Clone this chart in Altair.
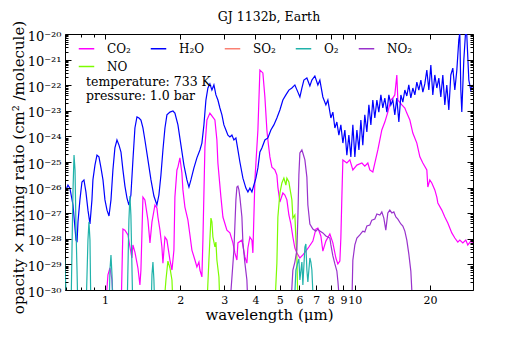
import altair as alt
import pandas as pd

FONT = "DejaVu Serif"

# ---------------- data (wavelength in micron, log10 of opacity x mixing ratio) -------------
species_order = ["CO₂", "H₂O", "SO₂", "O₂", "NO₂", "NO"]
species_colors = ["#ff00ff", "#0000ff", "#fa8072", "#20b2aa", "#9932cc", "#7cfc00"]

h2o_wl = [0.698, 0.711, 0.724, 0.745, 0.766, 0.773, 0.780, 0.794, 0.809, 0.824,
          0.839, 0.855, 0.871, 0.887, 0.895, 0.912, 0.929, 0.946, 0.964, 0.982,
          1.000, 1.019, 1.038, 1.057, 1.076, 1.096, 1.117, 1.138, 1.159, 1.180,
          1.202, 1.225, 1.247, 1.270, 1.294, 1.318, 1.343, 1.368, 1.393, 1.419,
          1.445, 1.486, 1.528, 1.570, 1.614, 1.644, 1.675, 1.706, 1.738, 1.770,
          1.820, 1.871, 1.905, 1.959, 2.014, 2.070, 2.128, 2.168, 2.208, 2.270,
          2.333, 2.399, 2.443, 2.489, 2.535, 2.582, 2.630, 2.679, 2.729, 2.780,
          2.831, 2.884, 2.938, 2.992, 3.048, 3.105, 3.162, 3.221, 3.281, 3.342,
          3.404, 3.467, 3.565, 3.664, 3.733, 3.802, 3.873, 3.945, 4.018, 4.093,
          4.169, 4.246, 4.365, 4.487, 4.613, 4.742, 4.875, 5.012, 5.152, 5.297,
          5.445, 5.598, 5.754, 5.916, 6.026, 6.138, 6.252, 6.427, 6.607, 6.730,
          6.918, 7.112, 7.244, 7.447, 7.656, 7.798, 8.017, 8.166, 8.318, 8.472,
          8.630, 8.790, 8.954, 9.120, 9.290, 9.462, 9.638, 9.817, 10.0, 10.19,
          10.38, 10.57, 10.76, 10.96, 11.17, 11.38, 11.59, 11.80, 12.02, 12.25,
          12.47, 12.71, 12.94, 13.18, 13.43, 13.68, 13.93, 14.19, 14.45, 14.72,
          15.00, 15.28, 15.56, 15.85, 16.14, 16.44, 16.75, 17.06, 17.38, 17.70,
          18.03, 18.37, 18.71, 19.05, 19.41, 19.77, 20.14, 20.51, 20.89, 21.28,
          21.68, 22.08, 22.49, 22.91, 23.33, 23.77, 24.21, 24.66, 25.12, 25.59,
          26.06, 26.30, 26.55, 26.79, 27.29, 27.80, 28.05, 28.58, 29.11, 29.65]
h2o_log = [-26.09, -25.90, -26.02, -26.68, -28.05, -28.13, -27.34, -26.48, -25.78, -25.70,
           -26.17, -26.88, -27.42, -26.48, -25.70, -25.12, -24.73, -24.80, -25.23, -25.70,
           -26.48, -26.88, -27.11, -26.48, -25.31, -24.45, -24.14, -24.34, -24.61, -25.31,
           -25.94, -26.41, -26.68, -26.29, -24.92, -23.67, -23.24, -23.28, -23.36, -23.67,
           -24.14, -24.92, -25.70, -26.33, -26.68, -26.29, -25.51, -24.53, -23.67, -23.16,
           -23.05, -23.01, -23.09, -23.55, -24.34, -25.12, -25.70, -25.98, -25.70, -25.23,
           -24.84, -24.53, -24.26, -23.55, -22.58, -22.11, -21.95, -22.19, -21.99, -22.38,
           -22.58, -22.89, -23.16, -23.55, -23.75, -23.95, -24.02, -23.95, -24.14, -24.06,
           -24.53, -25.00, -25.63, -26.02, -26.17, -26.02, -26.17, -25.90, -25.63, -25.23,
           -24.61, -24.45, -24.14, -24.06, -23.75, -23.55, -23.28, -22.97, -22.58, -22.38,
           -22.19, -22.11, -21.99, -22.27, -22.46, -22.11, -21.80, -21.72, -22.03, -21.80,
           -21.64, -21.99, -21.80, -22.46, -22.77, -22.58, -23.28, -23.05, -23.67, -23.44,
           -23.95, -23.55, -24.26, -23.75, -24.73, -23.95, -24.80, -23.55, -24.80, -23.75,
           -24.53, -23.36, -24.34, -23.16, -23.83, -22.77, -23.55, -22.58, -23.28, -22.58,
           -23.05, -22.38, -22.89, -22.50, -23.05, -22.38, -22.77, -22.58, -23.16, -22.50,
           -23.44, -22.38, -22.66, -22.19, -22.42, -21.99, -22.50, -22.11, -22.38, -21.88,
           -22.19, -21.80, -22.27, -21.95, -21.41, -22.19, -21.21, -22.38, -21.60, -22.11,
           -21.72, -22.46, -21.60, -22.77, -21.99, -22.97, -21.60, -21.33, -22.19, -21.41,
           -20.23, -19.96, -22.19, -23.05, -21.02, -19.77, -20.04, -21.80, -22.19, -21.99]

co2_wl = [0.991, 1.028, 1.047, 1.067, 1.086, 1.159, 1.180, 1.202, 1.236, 1.259,
          1.282, 1.294, 1.318, 1.355, 1.380, 1.393, 1.419, 1.445, 1.486, 1.514,
          1.542, 1.585, 1.614, 1.629, 1.660, 1.690, 1.706, 1.738, 1.770, 1.820,
          1.854, 1.888, 1.905, 1.941, 1.959, 1.995, 2.032, 2.051, 2.089, 2.148,
          2.188, 2.228, 2.291, 2.333, 2.377, 2.399, 2.443, 2.466, 2.512, 2.559,
          2.630, 2.679, 2.754, 2.805, 2.831, 2.911, 2.965, 3.076, 3.162, 3.251,
          3.311, 3.373, 3.404, 3.532, 3.631, 3.698, 3.733, 3.802, 3.873, 3.908,
          3.981, 4.093, 4.169, 4.285, 4.365, 4.446, 4.487, 4.571, 4.656, 4.786,
          4.875, 4.920, 5.012, 5.152, 5.248, 5.346, 5.445, 5.546, 5.649, 5.754,
          5.861, 6.026, 6.194, 6.368, 6.546, 6.792, 6.982, 7.112, 7.311, 7.447,
          7.656, 7.943, 8.166, 8.395, 8.551, 8.710, 8.790, 8.872, 8.954, 9.290,
          9.550, 9.817, 10.19, 10.67, 10.96, 11.27, 11.48, 11.80, 12.02, 12.36,
          12.82, 13.18, 13.55, 13.93, 14.19, 14.45, 14.72, 14.86, 15.42, 15.85,
          16.14, 16.60, 17.06, 17.70, 18.20, 18.71, 19.41, 19.59, 19.95, 20.32,
          20.89, 21.28, 21.48, 22.28, 22.91, 23.55, 24.43, 25.12, 25.82, 26.30,
          27.04, 27.80, 28.31, 29.11, 29.65]
co2_log = [-31.5, -29.41, -29.14, -29.61, -31.0, -31.0, -27.62, -27.66, -27.85, -28.32,
           -28.75, -28.24, -28.52, -29.14, -29.80, -29.22, -26.37, -26.48, -27.27, -28.16,
           -27.34, -26.68, -26.80, -27.15, -27.66, -28.32, -28.95, -27.93, -28.05, -28.83,
           -29.22, -28.44, -26.37, -25.31, -25.20, -24.84, -25.43, -26.09, -26.76, -27.27,
           -27.85, -28.44, -28.83, -29.10, -28.91, -29.22, -29.49, -28.05, -24.41, -23.36,
           -23.09, -23.20, -23.36, -24.14, -25.04, -26.37, -27.15, -27.66, -27.77, -28.16,
           -28.55, -28.83, -28.16, -28.05, -28.71, -28.95, -28.36, -27.93, -28.05, -28.55,
           -25.70, -23.75, -21.41, -21.52, -22.46, -23.75, -24.14, -24.80, -25.20, -25.31,
           -25.51, -25.98, -26.56, -26.21, -26.29, -26.48, -27.07, -27.42, -27.93, -28.36,
           -28.55, -28.75, -28.63, -28.48, -28.32, -28.09, -27.62, -27.58, -27.89, -28.48,
           -28.09, -27.81, -28.16, -28.75, -28.98, -28.87, -27.97, -26.37, -24.92, -25.04,
           -24.92, -25.31, -25.12, -25.04, -25.16, -25.04, -25.31, -25.39, -25.04, -24.53,
           -23.75, -23.44, -23.05, -22.58, -22.50, -22.38, -21.60, -22.58, -22.77, -22.89,
           -23.09, -23.36, -23.87, -24.26, -24.80, -25.04, -25.31, -25.98, -25.70, -25.82,
           -26.09, -26.37, -26.60, -26.88, -27.15, -27.38, -27.77, -27.97, -28.13, -28.05,
           -28.16, -28.05, -28.24, -28.09, -28.16]

no2_wl = [3.162, 3.281, 3.342, 3.373, 3.404, 3.436, 3.467, 3.532, 3.565, 3.631,
          3.698, 3.733, 4.571, 5.546, 5.649, 5.754, 5.861, 5.916, 5.970, 6.026,
          6.138, 6.194, 6.310, 6.427, 6.486, 6.607, 6.792, 6.982, 7.112, 7.244,
          7.447, 7.656, 7.943, 8.017, 8.166, 8.318, 8.472, 8.551, 8.710, 9.300,
          9.727, 9.817, 10.0, 10.19, 10.47, 10.76, 10.96, 11.17, 11.48, 11.69,
          12.02, 12.25, 12.59, 12.82, 13.06, 13.30, 13.55, 13.80, 14.06, 14.32,
          14.59, 14.86, 15.28, 15.56, 15.85, 16.14, 16.44, 16.75, 16.90, 17.06]
no2_log = [-30.6, -28.44, -26.48, -25.98, -25.94, -26.09, -26.37, -27.15, -28.16, -28.95,
           -29.61, -30.6, -32.0, -30.6, -29.22, -28.91, -28.44, -27.15, -25.51, -24.65,
           -24.53, -24.65, -24.92, -25.59, -26.68, -27.42, -27.62, -27.70, -27.62, -27.70,
           -27.77, -27.89, -27.97, -28.24, -28.67, -28.98, -29.26, -29.65, -30.6, -32.0,
           -30.6, -28.83, -28.24, -27.97, -27.85, -27.70, -27.73, -27.50, -27.46, -27.27,
           -27.23, -27.03, -27.07, -26.95, -27.19, -27.66, -26.99, -26.88, -26.99, -26.95,
           -27.15, -27.23, -27.42, -27.50, -27.70, -28.05, -28.59, -29.26, -30.00, -30.6]

no_wl = [1.722, 1.754, 1.786, 1.820, 1.854, 1.871, 2.188, 2.559, 2.606, 2.655,
         2.679, 2.704, 2.754, 2.780, 2.805, 2.858, 2.884, 3.802, 4.786, 4.875,
         4.920, 5.012, 5.105, 5.200, 5.297, 5.346, 5.445, 5.495, 5.598, 5.649,
         5.754, 5.808, 5.861, 5.916]
no_log = [-30.6, -29.61, -28.87, -29.14, -29.61, -30.6, -32.0, -30.6, -28.83, -27.19,
          -27.34, -27.93, -28.32, -28.13, -28.83, -29.49, -30.6, -32.0, -30.6, -28.95,
          -27.15, -26.21, -25.82, -25.63, -25.90, -25.63, -25.78, -26.02, -26.48, -27.19,
          -27.07, -27.97, -28.71, -30.6]

o2_wl = [0.690, 0.705, 0.731, 0.738, 0.745, 0.752, 0.759, 0.766, 0.773, 0.780,
         0.839, 0.855, 0.863, 0.871, 0.879, 1.038, 1.047, 1.057, 1.067, 1.076,
         1.225, 1.247, 1.259, 1.270, 1.294, 1.528, 1.542, 1.556, 1.570, 1.585,
         5.702, 5.808, 5.916, 5.970, 6.026, 6.138, 6.194, 6.310, 6.368, 6.427,
         6.486, 6.607, 6.668, 6.730, 6.855]
o2_log = [-28.8, -31.0, -31.0, -28.44, -26.09, -24.73, -25.31, -27.66, -29.22, -31.0,
          -31.0, -28.05, -27.34, -28.05, -31.0, -31.0, -29.22, -28.63, -29.41, -31.0,
          -31.0, -27.27, -26.33, -27.07, -31.0, -31.0, -29.41, -28.91, -29.61, -31.0,
          -31.0, -29.22, -28.91, -28.79, -29.61, -28.91, -29.80, -28.32, -28.20, -29.22,
          -29.69, -28.75, -28.91, -29.22, -31.0]

so2_wl = []
so2_log = []

x_label_ticks = [1, 2, 3, 4, 5, 6, 7, 8, 9, 10, 20]
x_minor_ticks = [0.7, 0.8, 0.9]
y_major_ticks = [1e-30, 1e-29, 1e-28, 1e-27, 1e-26, 1e-25, 1e-24, 1e-23, 1e-22, 1e-21, 1e-20]
minor_mult = [2, 3, 4, 5, 6, 7, 8, 9]
y_minor_ticks = [m * d for d in y_major_ticks[:-1] for m in minor_mult]

title_text = "GJ 1132b, Earth"
annotation = "temperature: 733 K\npressure: 1.0 bar"

# ---------------- build table ----------------
series = [("CO₂", co2_wl, co2_log), ("NO", no_wl, no_log), ("H₂O", h2o_wl, h2o_log),
          ("SO₂", so2_wl, so2_log), ("O₂", o2_wl, o2_log), ("NO₂", no2_wl, no2_log)]
rows = []
for name, wl, lg in series:
    for w, v in zip(wl, lg):
        rows.append({"species": name, "wavelength": w, "opacity": 10.0 ** v})
df = pd.DataFrame(rows)

xscale = alt.Scale(type="log", domain=[0.692, 29.7], nice=False)
yscale = alt.Scale(type="log", domain=[1e-30, 1e-20], nice=False)

sup = "⁰¹²³⁴⁵⁶⁷⁸⁹"
e = "(-round(log(datum.value)/LN10))"
ylabel_expr = (f"'10⁻' + substring('{sup}', floor({e}/10), floor({e}/10)+1)"
               f" + substring('{sup}', {e}%10, {e}%10+1)")

lines = alt.Chart(df).mark_line(clip=True, strokeWidth=1.2).encode(
    x=alt.X("wavelength:Q", scale=xscale,
            axis=alt.Axis(orient="bottom", values=x_label_ticks, format="d", ticks=False,
                          tickSize=0, domain=False, grid=False, labelFontSize=11,
                          labelPadding=4, labelOverlap=False, labelFlush=False,
                          labelBound=False, title="wavelength (μm)", titleFontSize=15,
                          titlePadding=2)),
    y=alt.Y("opacity:Q", scale=yscale,
            axis=alt.Axis(orient="left", values=y_major_ticks, labelExpr=ylabel_expr,
                          ticks=False, tickSize=0, domain=False, grid=False,
                          labelFontSize=13, labelPadding=4, labelOffset=2,
                          labelOverlap=False, labelFlush=False, labelBound=False,
                          title="opacity × mixing ratio (cm² /molecule)",
                          titleFontSize=15, titleX=-47, titleY=133, titleAngle=270,
                          titleAlign="center", titleBaseline="middle")),
    color=alt.Color("species:N", scale=alt.Scale(domain=species_order, range=species_colors),
                    legend=alt.Legend(orient="none", legendX=13, legendY=6, columns=5,
                                      direction="horizontal",
                                      title=None, symbolType="stroke", symbolSize=240,
                                      symbolStrokeWidth=1.5, labelFont=FONT,
                                      labelFontSize=12, labelOffset=12, columnPadding=16,
                                      rowPadding=3, padding=0, labelColor="black")),
)

annot = alt.Chart(pd.DataFrame({"t": [annotation]})).mark_text(
    align="left", baseline="top", font=FONT, fontSize=12.5, lineHeight=14,
    color="black", lineBreak="\n"
).encode(x=alt.value(21), y=alt.value(42), text="t:N")

title_mark = alt.Chart(pd.DataFrame({"t": [title_text]})).mark_text(
    align="center", baseline="alphabetic", font=FONT, fontSize=12.5, color="black"
).encode(x=alt.value(204), y=alt.value(-13), text="t:N")

tick_df = pd.DataFrame({"wavelength": [1.0, 10.0], "opacity": [1e-25, 1e-24]})


def tick_axis(orient, values, size):
    return alt.Axis(orient=orient, values=values, tickSize=size, offset=-size,
                    labels=False, domain=False, grid=False, title=None, ticks=True,
                    tickColor="black", tickWidth=1, zindex=2)


def tick_layer(xaxis=None, yaxis=None):
    return alt.Chart(tick_df).mark_point(opacity=0).encode(
        x=alt.X("wavelength:Q", scale=xscale, axis=xaxis),
        y=alt.Y("opacity:Q", scale=yscale, axis=yaxis))


layers = [
    tick_layer(xaxis=tick_axis("bottom", x_label_ticks, 5)),
    tick_layer(xaxis=tick_axis("top", x_label_ticks, 5)),
    tick_layer(xaxis=tick_axis("bottom", x_minor_ticks, 3)),
    tick_layer(xaxis=tick_axis("top", x_minor_ticks, 3)),
    tick_layer(yaxis=tick_axis("left", y_major_ticks, 6)),
    tick_layer(yaxis=tick_axis("left", y_minor_ticks, 3)),
    tick_layer(yaxis=tick_axis("right", y_major_ticks, 6)),
    tick_layer(yaxis=tick_axis("right", y_minor_ticks, 3)),
]

chart = alt.layer(lines, annot, title_mark, *layers).resolve_axis(
    x="independent", y="independent"
).properties(
    width=408, height=256,
    autosize=alt.AutoSizeParams(type="none"),
    padding={"left": 57, "top": 26, "right": 40, "bottom": 40},
).configure_view(
    stroke="black", strokeWidth=1
).configure_axis(
    labelFont=FONT, titleFont=FONT, labelColor="black", titleColor="black",
    titleFontWeight="normal"
).configure_legend(
    labelFont=FONT
)

chart.save("out.html", embed_options={"renderer": "svg", "actions": False})
